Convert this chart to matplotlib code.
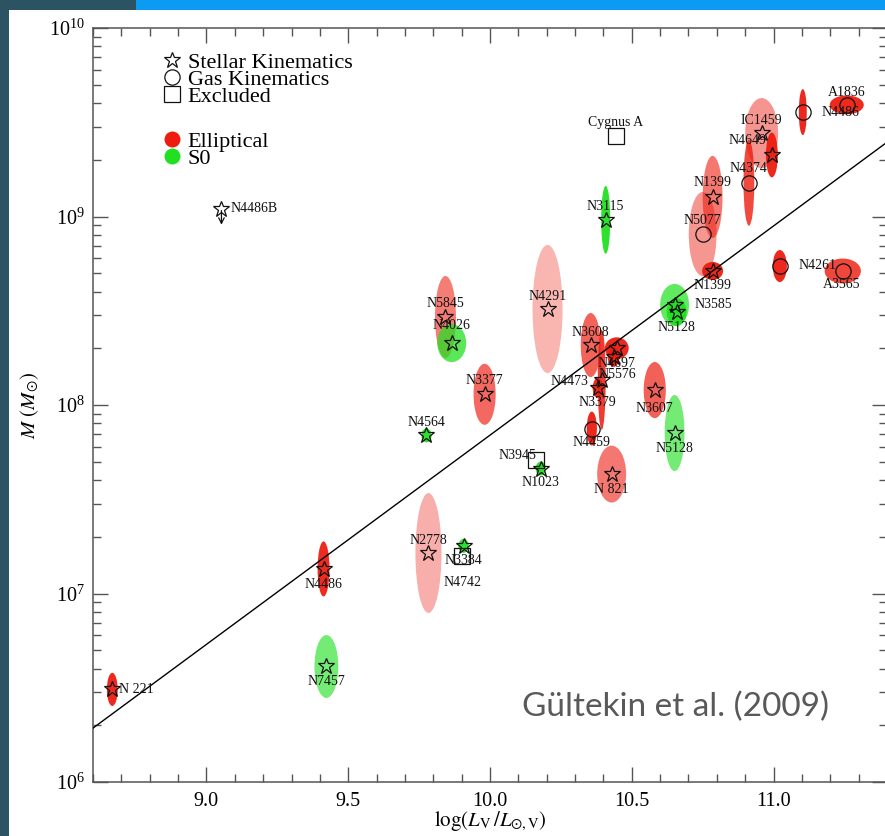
import numpy as np
import matplotlib
matplotlib.use('Agg')
import matplotlib.pyplot as plt
from matplotlib.patches import Ellipse, Rectangle
from matplotlib.lines import Line2D
from matplotlib.ticker import MultipleLocator, LogLocator, NullFormatter, FormatStrFormatter

plt.rcParams['font.family'] = ['Liberation Serif', 'DejaVu Serif']
plt.rcParams['mathtext.fontset'] = 'stix'

# ---------------- data ----------------
names = ['N 221', 'N4486', 'N7457', 'N2778', 'N3384', 'N4742', 'N4564', 'N3945',
         'N1023', 'N 821', 'N4459', 'N3379', 'N4473', 'N5576', 'N4697', 'N3608',
         'N3377', 'N5845', 'N4026', 'N4291', 'N3115', 'Cygnus A', 'N3585', 'N5128',
         'N5128', 'N3607', 'N1399', 'N5077', 'N1399', 'N4374', 'IC1459', 'N4649',
         'N4261', 'A3565', 'N4486', 'A1836', 'N4486B']
log_L = [8.668, 9.413, 9.423, 9.783, 9.907, 9.903, 9.776, 10.161,
         10.179, 10.429, 10.359, 10.380, 10.394, 10.436, 10.447, 10.355,
         9.981, 9.843, 9.865, 10.203, 10.408, 10.443, 10.651, 10.658,
         10.651, 10.581, 10.785, 10.750, 10.785, 10.913, 10.958, 10.994,
         11.022, 11.244, 11.103, 11.258, 9.053]
mass = [3.1e6, 1.35e7, 4.1e6, 1.64e7, 1.79e7, 1.58e7, 6.9e7, 5.1e7,
        4.6e7, 4.3e7, 7.5e7, 1.23e8, 1.36e8, 1.8e8, 2.0e8, 2.08e8,
        1.14e8, 2.93e8, 2.13e8, 3.23e8, 9.6e8, 2.67e9, 3.4e8, 3.11e8,
        7.1e7, 1.2e8, 1.27e9, 8.07e8, 5.14e8, 1.51e9, 2.77e9, 2.12e9,
        5.46e8, 5.14e8, 3.58e9, 3.91e9, 1.1e9]
err_logL = [0.019, 0.021, 0.042, 0.046, 0.018, 0.0, 0.018, 0.0,
            0.018, 0.051, 0.018, 0.018, 0.014, 0.021, 0.042, 0.035,
            0.039, 0.037, 0.051, 0.053, 0.016, 0.0, 0.051, 0.035,
            0.035, 0.039, 0.035, 0.049, 0.037, 0.019, 0.058, 0.021,
            0.025, 0.064, 0.014, 0.060, 0.0]
err_logM = [0.088, 0.146, 0.167, 0.318, 0.037, 0.0, 0.037, 0.0,
            0.037, 0.151, 0.090, 0.053, 0.265, 0.053, 0.058, 0.170,
            0.162, 0.218, 0.101, 0.340, 0.180, 0.0, 0.111, 0.074,
            0.202, 0.149, 0.218, 0.223, 0.048, 0.228, 0.186, 0.119,
            0.085, 0.066, 0.122, 0.050, 0.0]
method = ['star', 'star', 'star', 'star', 'star', 'excl', 'star', 'excl',
          'star', 'star', 'gas', 'star', 'star', 'star', 'star', 'star',
          'star', 'star', 'star', 'star', 'star', 'excl', 'star', 'star',
          'star', 'star', 'star', 'gas', 'star', 'gas', 'star', 'star',
          'gas', 'gas', 'gas', 'gas', 'limit']
morph = ['E', 'E', 'S0', 'E', 'S0', '', 'S0', '',
         'S0', 'E', 'E', 'E', 'E', 'E', 'E', 'E',
         'E', 'E', 'S0', 'E', 'S0', '', 'S0', 'S0',
         'S0', 'E', 'E', 'E', 'E', 'E', 'E', 'E',
         'E', 'E', 'E', 'E', '']

# M-L relation (Gultekin et al. 2009): log M = a + b log(L/1e11)
fit_a, fit_b = 8.95, 1.11

# ---------------- label layout (pixel offsets, alignment) ----------------
label_layout = [(7, 0, 'left'), (0, -16, 'center'), (0, -15, 'center'), (0, 13, 'center'),
                (0, -15, 'center'), (0, -26, 'center'), (0, 13, 'center'), (-18, 5, 'center'),
                (0, -14, 'center'), (0, -15, 'center'), (0, -14, 'center'), (0, -14, 'center'),
                (-32, -2, 'center'), (4, -18, 'center'), (0, -15, 'center'), (0, 13, 'center'),
                (0, 14, 'center'), (0, 13, 'center'), (0, 18, 'center'), (0, 13, 'center'),
                (0, 13, 'center'), (0, 14, 'center'), (20, 0, 'left'), (0, -15, 'center'),
                (0, -15, 'center'), (0, -18, 'center'), (0, 14, 'center'), (0, 14, 'center'),
                (0, -15, 'center'), (0, 14, 'center'), (0, 13, 'center'), (-24, 14, 'center'),
                (19, 1, 'left'), (-1, -14, 'center'), (19, 0, 'left'), (0, 12, 'center'),
                (9, 0, 'left')]

RED = (0.93, 0.11, 0.06)
GREEN = (0.13, 0.88, 0.13)

fig = plt.figure(figsize=(8.85, 8.36), dpi=100, facecolor='#2b5361')
fig.add_artist(Rectangle((9 / 885, 0), 1, 1 - 10 / 836, transform=fig.transFigure,
                         facecolor='white', edgecolor='none', zorder=-5))
fig.add_artist(Rectangle((136 / 885, 1 - 10 / 836), 1, 10 / 836, transform=fig.transFigure,
                         facecolor='#0b9bf2', edgecolor='none', zorder=-5))

ax = fig.add_axes([93 / 885, 54 / 836, 794 / 885, 754 / 836])
ax.set_facecolor('none')
ax.set_yscale('log')
ax.set_xlim(8.6, 11.4)
ax.set_ylim(1e6, 1e10)

# ellipses drawn in (log L, log M) space
ell_tr = ax.transLimits + ax.transAxes
order = sorted([i for i in range(len(names)) if err_logL[i] > 0],
               key=lambda i: -err_logL[i] * err_logM[i])
for i in order:
    area = err_logL[i] * err_logM[i]
    a = float(np.clip(0.92 - 0.85 * (np.log10(area) + 2.5), 0.32, 0.95))
    col = RED if morph[i] == 'E' else GREEN
    ax.add_patch(Ellipse((log_L[i], np.log10(mass[i])), 2 * err_logL[i], 2 * err_logM[i],
                         transform=ell_tr, facecolor=col, alpha=a, edgecolor='none', zorder=2))

# fit line
xs = np.array([8.6, 11.4])
ax.plot(xs, 10 ** (fit_a + fit_b * (xs - 11.0)), color='k', lw=1.0, zorder=3)

# markers
mk = {'star': '*', 'gas': 'o', 'excl': 's', 'limit': '*'}
ms = {'star': 12, 'gas': 11, 'excl': 11, 'limit': 12}
for i in range(len(names)):
    m = method[i]
    ax.plot([log_L[i]], [mass[i]], ls='none', marker=mk[m], markersize=ms[m],
            mfc='none', mec='#111111', mew=0.9, zorder=4)
    if m == 'limit':
        ax.annotate('', xy=(log_L[i], mass[i] * 10 ** -0.085), xytext=(log_L[i], mass[i] * 10 ** -0.01),
                    arrowprops=dict(arrowstyle='->', color='#111111', lw=0.9,
                                    shrinkA=0, shrinkB=0), zorder=4)
    dx, dy, ha = label_layout[i]
    ax.annotate(names[i], xy=(log_L[i], mass[i]), xytext=(dx, dy), textcoords='offset pixels',
                ha=ha, va='center', fontsize=10, color='#111111', zorder=5)

# axes styling
ax.xaxis.set_major_locator(MultipleLocator(0.5))
ax.xaxis.set_minor_locator(MultipleLocator(0.1))
ax.xaxis.set_major_formatter(FormatStrFormatter('%.1f'))
ax.yaxis.set_major_locator(LogLocator(base=10, numticks=10))
ax.yaxis.set_minor_locator(LogLocator(base=10, subs=np.arange(2, 10), numticks=20))
ax.yaxis.set_minor_formatter(NullFormatter())
ax.tick_params(which='both', direction='in', top=True, right=True, color='#555555', width=1.0)
ax.tick_params(which='major', length=11, labelsize=14.5)
ax.tick_params(which='minor', length=5.5)
ax.tick_params(axis='x', which='major', pad=7)
ax.tick_params(axis='y', which='major', pad=6)
for s in ax.spines.values():
    s.set_color('#555555')
    s.set_linewidth(1.1)

ax.set_xlabel(r'$\log(L_{\mathrm{V}}\,/L_{\odot,\mathrm{V}})$', fontsize=15)
ax.xaxis.set_label_coords(0.5, -0.037)
ax.set_ylabel(r'$M\ (M_{\odot})$', fontsize=15)
ax.yaxis.set_label_coords(-0.066, 0.5)

# legends
h1 = [Line2D([], [], ls='none', marker='*', markersize=12, mfc='none', mec='#111111', mew=0.9),
      Line2D([], [], ls='none', marker='o', markersize=11, mfc='none', mec='#111111', mew=0.9),
      Line2D([], [], ls='none', marker='s', markersize=11, mfc='none', mec='#111111', mew=0.9)]
leg1 = ax.legend(h1, ['Stellar Kinematics', 'Gas Kinematics', 'Excluded'], loc='upper left',
                 bbox_to_anchor=(0.0856, 0.968), frameon=False, fontsize=16, handlelength=1.0,
                 handletextpad=0.2, labelspacing=-0.15, borderpad=0, borderaxespad=0)
ax.add_artist(leg1)
h2 = [Line2D([], [], ls='none', marker='o', markersize=11.5, mfc=RED, mec='none'),
      Line2D([], [], ls='none', marker='o', markersize=11.5, mfc=GREEN, mec='none')]
ax.legend(h2, ['Elliptical', 'S0'], loc='upper left', bbox_to_anchor=(0.0856, 0.863),
          frameon=False, fontsize=16, handlelength=1.0, handletextpad=0.2, labelspacing=-0.15,
          borderpad=0, borderaxespad=0)

fig.text(675 / 885, 1 - 707 / 836, 'Gültekin et al. (2009)', family='Lato', fontsize=24,
         color='#595959', ha='center', va='center')

fig.savefig('out.png', dpi=100, facecolor=fig.get_facecolor())
